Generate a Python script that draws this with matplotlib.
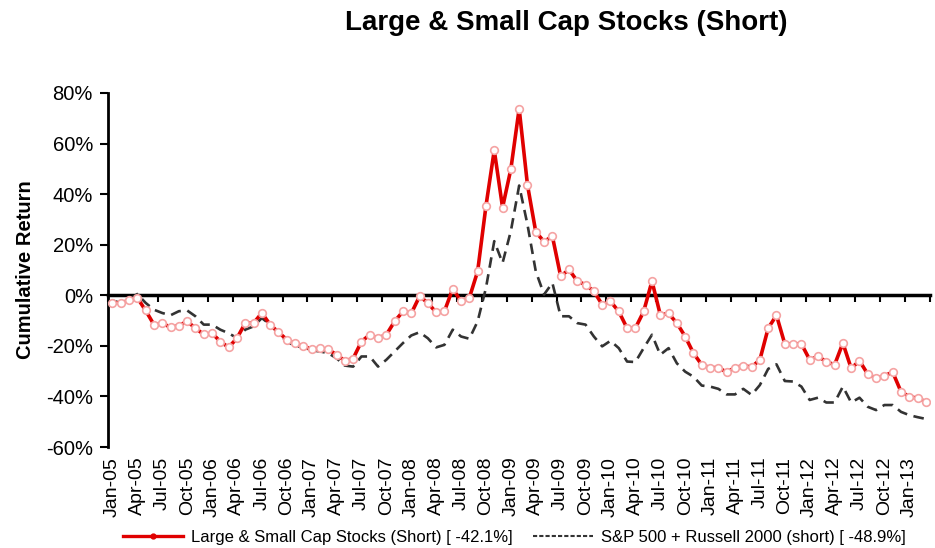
import matplotlib
matplotlib.use('Agg')
import matplotlib.pyplot as plt
from matplotlib.lines import Line2D
import pandas as pd

plt.rcParams['font.family'] = ['Liberation Sans', 'DejaVu Sans']

# monthly, Jan-05 .. Mar-13
months = pd.date_range('2005-01-01', periods=99, freq='MS').strftime('%b-%y').tolist()

# Large & Small Cap Stocks (Short), cumulative return in %
short_fund = [
    -3.0, -3.0, -2.0, -1.0, -6.0, -11.6, -11.0, -12.7, -12.0, -10.3,
    -13.0, -15.5, -15.0, -18.3, -20.6, -17.0, -11.0, -11.0, -7.0, -11.6,
    -14.6, -17.5, -19.0, -20.0, -21.4, -20.9, -21.4, -23.5, -25.9, -25.0,
    -18.3, -15.6, -16.9, -15.6, -10.3, -6.4, -7.2, -0.4, -3.0, -6.8,
    -6.3, 2.6, -2.4, -1.0, 9.5, 35.3, 57.4, 34.7, 49.9, 73.8,
    43.7, 25.1, 21.2, 23.4, 7.5, 10.2, 5.6, 4.2, 1.6, -3.7,
    -2.4, -6.4, -13.0, -13.0, -6.4, 5.6, -7.7, -7.2, -11.0, -16.3,
    -22.9, -27.5, -28.6, -28.6, -30.4, -28.6, -27.8, -28.4, -25.5, -13.0,
    -7.9, -19.2, -19.2, -19.2, -25.5, -24.2, -26.2, -27.5, -18.9, -28.9,
    -25.9, -31.2, -32.8, -31.8, -30.4, -38.1, -40.1, -40.7, -42.1,
]

# S&P 500 + Russell 2000 (short), cumulative return in %
index_short = [
    -2.1, -3.0, -1.7, 0.5, -3.0, -5.7, -7.0, -7.9, -6.3, -6.0,
    -8.3, -11.6, -11.6, -13.6, -15.0, -16.9, -13.6, -12.3, -9.0, -11.6,
    -15.0, -18.3, -20.0, -20.6, -21.8, -22.2, -22.9, -24.9, -27.8, -28.2,
    -24.2, -24.2, -28.2, -25.5, -22.2, -18.9, -15.9, -14.6, -17.0, -20.6,
    -19.6, -13.6, -16.3, -17.2, -10.3, 2.9, 21.4, 12.8, 25.4, 43.4,
    28.0, 9.5, 0.3, 4.9, -8.3, -8.3, -11.0, -11.6, -16.3, -20.2,
    -18.0, -20.9, -26.2, -26.4, -20.9, -15.6, -23.5, -20.9, -26.9, -30.2,
    -32.2, -35.7, -36.1, -37.0, -39.2, -39.2, -37.0, -39.4, -35.5, -29.1,
    -27.3, -33.9, -34.1, -36.1, -41.4, -40.5, -42.4, -42.4, -36.1, -42.4,
    -40.5, -44.1, -45.4, -43.4, -43.4, -46.1, -47.4, -48.2, -48.9,
]

fund_label = 'Large & Small Cap Stocks (Short) [ -42.1%]'
index_label = 'S&P 500 + Russell 2000 (short) [ -48.9%]'

x = list(range(len(months)))

fig = plt.figure(figsize=(9.35, 5.48), dpi=100)
ax = fig.add_axes([0.1158, 0.1843, 0.8789, 0.646])

ax.plot(x, index_short, color='#333333', lw=1.9, ls=(0, (4, 2.5)), zorder=2)
ax.plot(x, short_fund, color='#e00000', lw=2.6, marker='o', ms=5.5,
        mfc='white', mec='#f5a3a3', mew=1.2, zorder=3)

ax.set_xlim(-0.5, 98.5)
ax.set_ylim(-60, 80)
ax.set_yticks(range(-60, 81, 20))
ax.set_yticklabels([f'{v}%' for v in range(-60, 81, 20)], fontsize=14.5)
ax.set_xticks(x[::3])
ax.set_xticklabels(months[::3], rotation=90, fontsize=14)
ax.tick_params(axis='x', length=0, pad=7)
ax.tick_params(axis='y', length=6, width=1.5, direction='out', pad=5)

for s in ['top', 'right', 'bottom']:
    ax.spines[s].set_visible(False)
ax.spines['left'].set_linewidth(2)

# zero line with tick marks between the quarters
zero_ax = ax.secondary_xaxis(60 / 140)
zero_ax.set_xticks([v - 0.5 for v in range(0, 100, 3)])
zero_ax.set_xticklabels([])
zero_ax.tick_params(length=5, width=1.5, direction='out')
zero_ax.spines['bottom'].set_linewidth(2.5)

ax.set_ylabel('Cumulative Return', fontsize=14.5, fontweight='bold', labelpad=8)
fig.text(0.606, 0.958, 'Large & Small Cap Stocks (Short)', ha='center', va='center',
         fontsize=20, fontweight='bold')

handles = [
    Line2D([], [], color='#e00000', lw=2.4, marker='o', ms=3.5, mfc='#e00000', mec='#e00000'),
    Line2D([], [], color='#333333', lw=1.5, ls=(0, (2, 1))),
]
fig.legend(handles, [fund_label, index_label], loc='center', bbox_to_anchor=(0.55, 0.02),
           ncol=2, frameon=False, fontsize=12, handlelength=3.6, handletextpad=0.5,
           columnspacing=1.2)

fig.savefig('out.png', dpi=100)
